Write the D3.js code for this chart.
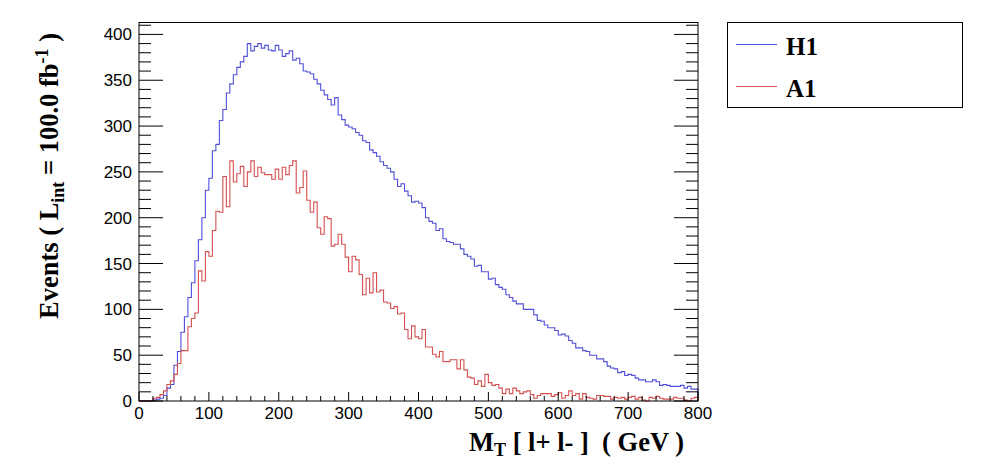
<!DOCTYPE html>
<html><head><meta charset="utf-8">
<script src="https://cdn.jsdelivr.net/npm/d3@7/dist/d3.min.js"></script>
<style>
html,body{margin:0;padding:0;background:#fff;}
svg text{white-space:pre;}
</style></head>
<body>
<svg id="c" width="996" height="472"></svg>
<script>
// ---- data ----
const binWidth = 5;
const xDomain = [0, 800];
const yDomain = [0, 413];
const xTicks = [0, 100, 200, 300, 400, 500, 600, 700, 800];
const yTicks = [0, 50, 100, 150, 200, 250, 300, 350, 400];
const seriesNames = ["H1", "A1"];
const seriesColors = ["#5050dc", "#d65050"];
const h1 = [0,0,0,0,1,2,3,6,14,18,39,54,75,92,113,129,153,176,200,230,
243,273,280,306,318,336,346,356,364,370,376,390,382,387,390,385,388,383,382,388,
383,376,379,382,372,374,368,360,359,357,351,346,339,334,329,323,331,312,307,301,
299,297,293,290,284,282,274,271,267,261,257,254,250,242,234,237,229,224,217,218,
216,211,200,196,194,186,188,177,174,173,171,171,166,160,158,155,147,148,141,141,
133,134,127,124,122,116,113,109,106,106,100,100,100,94,88,87,83,80,80,77,
72,73,71,66,63,58,58,55,54,50,50,46,46,43,38,36,35,31,32,28,
29,28,25,23,23,21,21,23,21,17,18,17,16,16,16,17,14,16,13,13];
const a1 = [0,0,0,0,3,4,7,11,18,22,29,41,55,55,81,90,96,142,131,163,
158,186,207,206,245,212,262,239,248,256,234,250,262,245,255,249,247,247,242,253,
242,255,247,257,262,227,233,251,219,206,217,189,182,201,199,169,171,182,171,157,
141,158,154,138,116,134,118,140,119,121,108,107,101,103,95,96,78,68,82,70,
68,78,59,59,51,48,54,43,43,45,45,35,45,34,26,25,18,22,16,29,
20,17,18,14,8,13,8,14,11,8,10,11,7,3,6,8,8,8,5,7,
9,3,6,11,6,8,2,8,4,3,2,6,6,5,5,2,4,3,4,2,
4,5,2,4,1,0,4,3,5,3,2,2,2,4,3,3,1,0,3,4];
const seriesValues = [h1, a1];

// ---- layout ----
const L = 139, R = 698, T = 22.5, B = 401;
const svg = d3.select("#c");
const x = d3.scaleLinear().domain(xDomain).range([L, R]);
const y = d3.scaleLinear().domain(yDomain).range([B, T]);
const tickFont = "'Liberation Sans', Arial, Helvetica, sans-serif";
const titleFont = "'Liberation Serif', 'Times New Roman', serif";

// histograms
const line = d3.line().x(d => x(d[0])).y(d => y(d[1])).curve(d3.curveStepAfter);
seriesValues.forEach((vals, k) => {
  const pts = [[0, 0]];
  vals.forEach((v, i) => pts.push([i * binWidth, v]));
  pts.push([vals.length * binWidth, vals[vals.length - 1]]);
  pts.push([vals.length * binWidth, 0]);
  svg.append("path").attr("d", line(pts)).attr("fill", "none")
    .attr("stroke", seriesColors[k]).attr("stroke-width", 1.1);
});

// frame
svg.append("rect").attr("x", L).attr("y", T).attr("width", R - L).attr("height", B - T)
  .attr("fill", "none").attr("stroke", "#000").attr("stroke-width", 1);

// x ticks (bottom, inward)
const xMinor = d3.range(0, 801, 20);
xMinor.forEach(v => {
  const major = v % 100 === 0;
  svg.append("line").attr("x1", x(v)).attr("x2", x(v)).attr("y1", B).attr("y2", B - (major ? 9 : 5))
    .attr("stroke", "#000").attr("stroke-width", 1);
});
xTicks.forEach(v => {
  svg.append("text").attr("x", x(v)).attr("y", 419).attr("text-anchor", "middle")
    .attr("font-family", tickFont).attr("font-size", 17).text(v);
});

// y ticks (left and right, inward)
const yMinor = d3.range(0, 411, 10);
yMinor.forEach(v => {
  const major = v % 50 === 0;
  const len = major ? 24 : 12;
  svg.append("line").attr("x1", L).attr("x2", L + len).attr("y1", y(v)).attr("y2", y(v))
    .attr("stroke", "#000").attr("stroke-width", 1);
  svg.append("line").attr("x1", R).attr("x2", R - len).attr("y1", y(v)).attr("y2", y(v))
    .attr("stroke", "#000").attr("stroke-width", 1);
});
yTicks.forEach(v => {
  svg.append("text").attr("x", 132).attr("y", y(v) + 6).attr("text-anchor", "end")
    .attr("font-family", tickFont).attr("font-size", 17).text(v);
});

// x title
const xt = svg.append("text").attr("x", 684).attr("y", 451).attr("text-anchor", "end")
  .attr("font-family", titleFont).attr("font-weight", "bold").attr("font-size", 26.5);
xt.append("tspan").text("M");
xt.append("tspan").attr("font-size", 18).attr("dy", 5).text("T");
xt.append("tspan").attr("dy", -5).text(" [ l+ l- ]  ( GeV )");

// y title
const yt = svg.append("text").attr("transform", "translate(58,33) rotate(-90)").attr("text-anchor", "end")
  .attr("font-family", titleFont).attr("font-weight", "bold").attr("font-size", 26.5);
yt.append("tspan").text("Events ( L");
yt.append("tspan").attr("font-size", 18).attr("dy", 6).text("int");
yt.append("tspan").attr("dy", -6).text(" = 100.0 fb");
yt.append("tspan").attr("font-size", 18).attr("dy", -10).text("-1");
yt.append("tspan").attr("dy", 10).text(" )");

// legend
svg.append("rect").attr("x", 727.5).attr("y", 22.5).attr("width", 235).attr("height", 85)
  .attr("fill", "#fff").attr("stroke", "#000").attr("stroke-width", 1);
const legY = [44.5, 86.5];
seriesNames.forEach((n, k) => {
  svg.append("line").attr("x1", 736).attr("x2", 777).attr("y1", legY[k]).attr("y2", legY[k])
    .attr("stroke", seriesColors[k]).attr("stroke-width", 1);
  svg.append("text").attr("x", 786).attr("y", legY[k] + 10).attr("font-family", titleFont)
    .attr("font-weight", "bold").attr("font-size", 25).text(n);
});
</script>
</body></html>
